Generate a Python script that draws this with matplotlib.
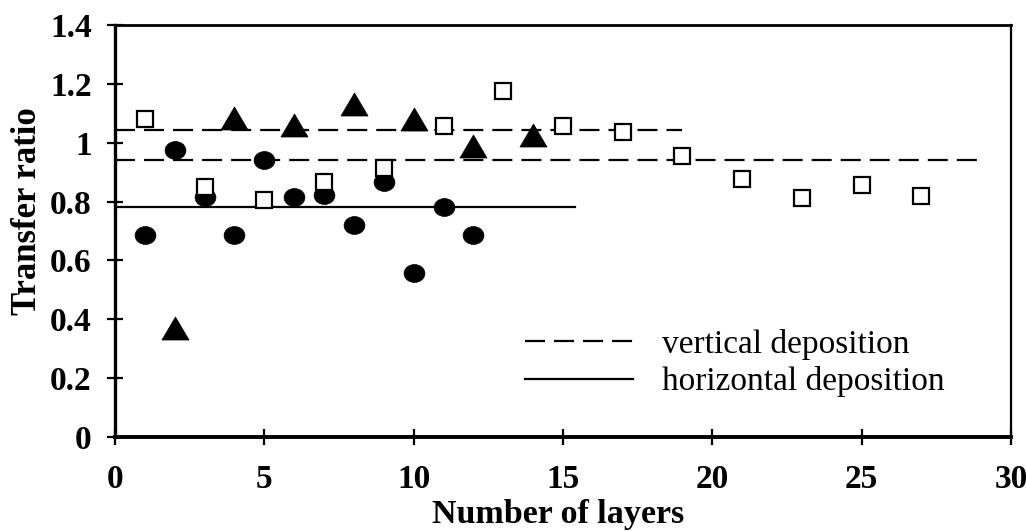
import matplotlib
matplotlib.use("Agg")
import matplotlib.pyplot as plt
import numpy as np
from matplotlib.path import Path
from matplotlib.ticker import FuncFormatter

# vertical deposition, open squares (odd layer counts)
sq_layers = [1, 3, 5, 7, 9, 11, 13, 15, 17, 19, 21, 23, 25, 27]
sq_ratio = [1.08, 0.85, 0.805, 0.868, 0.915, 1.055, 1.175, 1.055, 1.035, 0.955, 0.875, 0.812, 0.857, 0.82]

# vertical deposition, filled triangles
tri_layers = [2, 4, 6, 8, 10, 12, 14]
tri_ratio = [0.37, 1.085, 1.06, 1.13, 1.08, 0.99, 1.026]

# horizontal deposition, filled circles
circ_layers = [1, 2, 3, 4, 5, 6, 7, 8, 9, 10, 11, 12]
circ_ratio = [0.686, 0.976, 0.816, 0.686, 0.94, 0.816, 0.823, 0.72, 0.865, 0.558, 0.783, 0.686]

# average lines
vert_hi_x = [0, 19]
vert_hi_y = [1.044, 1.044]
vert_lo_x = [0, 29]
vert_lo_y = [0.942, 0.942]
horiz_x = [0, 15.4]
horiz_y = [0.78, 0.78]

plt.rcParams['font.family'] = ['Liberation Serif', 'DejaVu Serif']
plt.rcParams['lines.scale_dashes'] = False

fig = plt.figure(figsize=(10.26, 5.31), dpi=100)
ax = fig.add_axes([0.1121, 0.177, 0.8733, 0.776])

dash = (0, (14.4, 6.5))
ax.plot(vert_hi_x, vert_hi_y, color='black', lw=1.6, ls=dash, zorder=2)
ln_v, = ax.plot(vert_lo_x, vert_lo_y, color='black', lw=1.6, ls=dash, zorder=2,
                label='vertical deposition')
ln_h, = ax.plot(horiz_x, horiz_y, color='black', lw=1.6, zorder=2,
                label='horizontal deposition')

ellipse = Path.unit_circle().transformed(matplotlib.transforms.Affine2D().scale(1, 0.86))
triangle = Path([(0, 0.85), (-1, -0.85), (1, -0.85), (0, 0.85)],
                [Path.MOVETO, Path.LINETO, Path.LINETO, Path.CLOSEPOLY])

ax.plot(circ_layers, circ_ratio, ls='none', marker=ellipse, ms=15, mfc='black',
        mec='black', mew=0.5, zorder=3)
ax.plot(tri_layers, tri_ratio, ls='none', marker=triangle, ms=19.5, mfc='black',
        mec='black', mew=0.5, zorder=3)
ax.plot(sq_layers, sq_ratio, ls='none', marker='s', ms=11, mfc='white',
        mec='black', mew=1.6, zorder=4)

ax.set_xlim(0, 30)
ax.set_ylim(0, 1.4)
ax.set_xticks(np.arange(0, 31, 5))
ax.set_yticks(np.arange(0, 1.41, 0.2))
ax.yaxis.set_major_formatter(FuncFormatter(lambda v, p: '%g' % round(v, 1)))

ax.spines['left'].set_linewidth(2.4)
ax.spines['bottom'].set_linewidth(2.8)
ax.spines['top'].set_linewidth(2.0)
ax.spines['right'].set_linewidth(1.6)

ax.tick_params(axis='both', direction='inout', length=11.5, width=1.6,
               labelsize=24)
ax.tick_params(axis='y', pad=11)
ax.tick_params(axis='x', pad=14)
for lab in ax.get_xticklabels() + ax.get_yticklabels():
    lab.set_fontweight('bold')

ax.set_xlabel('Number of layers', fontsize=24.5, fontweight='bold')
ax.set_ylabel('Transfer ratio', fontsize=25, fontweight='bold')
ax.xaxis.set_label_coords(0.494, -0.15)
ax.yaxis.set_label_coords(-0.079, 0.549)

ax.legend(handles=[ln_v, ln_h], loc='center left', bbox_to_anchor=(0.4576, 0.18),
          frameon=False, fontsize=24, handlelength=3.25, handletextpad=0.87,
          labelspacing=0.2, borderpad=0, borderaxespad=0)

fig.savefig('out.png', dpi=100)
